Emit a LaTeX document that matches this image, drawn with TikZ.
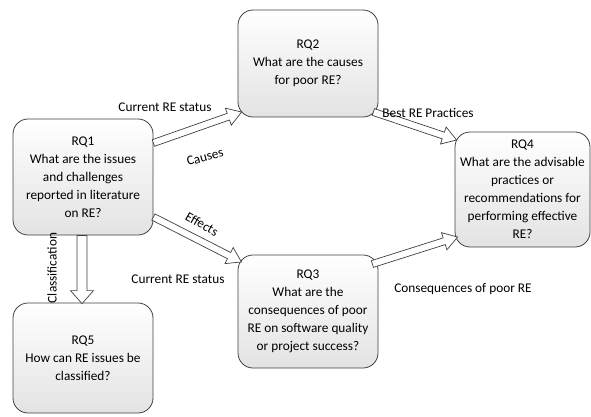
\documentclass[tikz,border=0pt]{standalone}
\usepackage{fontspec}
\setmainfont{Carlito}
\usetikzlibrary{calc}
\definecolor{edgegray}{HTML}{404040}
\tikzset{
  rq/.style={draw=edgegray, line width=0.8pt, rounded corners=15pt,
    top color=white, bottom color=gray!22, align=center, inner sep=0pt,
    font=\fontsize{13.3}{18}\selectfont},
  lbl/.style={font=\fontsize{13.3}{16}\selectfont, inner sep=0pt},
  blk/.style={draw=edgegray, fill=white, line width=0.7pt, line join=miter}
}
% hollow block arrow: from, to, half shaft width, half head width, head length
\newcommand\blockarrow[5]{%
  \draw[blk] let \p1=#1, \p2=#2,
    \n1={atan2(\y2-\y1,\x2-\x1)}, \n2={veclen(\x2-\x1,\y2-\y1)} in
    [shift={(\p1)}, rotate=\n1]
    (0,-#3) -- (\n2-#5,-#3) -- (\n2-#5,-#4) -- (\n2,0) -- (\n2-#5,#4)
    -- (\n2-#5,#3) -- (0,#3) -- cycle;
}
\begin{document}
\begin{tikzpicture}[x=1pt, y=-1pt]
\useasboundingbox (0,0) rectangle (591,417);

\node[rq, minimum width=140pt, minimum height=116pt] (q1) at (83,177)
  {RQ1\\What are the issues\\and challenges\\reported in literature\\on RE?};
\node[rq, minimum width=140pt, minimum height=107pt] (q2) at (308,63.5)
  {RQ2\\What are the causes\\for poor RE?};
\node[rq, minimum width=140pt, minimum height=113pt] (q3) at (308,311.5)
  {RQ3\\What are the\\consequences of poor\\RE on software quality\\or project success?};
\node[rq, minimum width=135pt, minimum height=115pt] (q4) at (522.5,189.5)
  {RQ4\\What are the advisable\\practices or\\recommendations for\\performing effective\\RE?};
\node[rq, minimum width=140pt, minimum height=110pt] (q5) at (83,358)
  {RQ5\\How can RE issues be\\classified?};

\blockarrow{([yshift=34pt]q1.east)}{([xshift=4pt,yshift=-48.5pt]q2.west)}{3.5}{9}{14}
\blockarrow{([yshift=-40pt]q1.east)}{([xshift=4pt,yshift=49.5pt]q3.west)}{3.5}{9}{14}
\blockarrow{([xshift=-5pt,yshift=-48.5pt]q2.east)}{([xshift=2pt,yshift=49.5pt]q4.west)}{3.5}{9}{14}
\blockarrow{([xshift=-6pt,yshift=47.5pt]q3.east)}{([xshift=3pt,yshift=-47.5pt]q4.west)}{3.5}{9}{14}
\blockarrow{([xshift=-1pt]q1.south)}{([xshift=-1pt,yshift=-1pt]q5.north)}{5}{11.5}{13}

\node[lbl] (cur1) at (165,107) {Current RE status};
\node[lbl, rotate=15] (causes) at (205,157) {Causes};
\node[lbl, rotate=-30] (effects) at (202,224) {Effects};
\node[lbl] (cur2) at (178,279) {Current RE status};
\node[lbl] (best) at (428,113) {Best RE Practices};
\node[lbl] (cons) at (463,289) {Consequences of poor RE};
\node[lbl, rotate=90] (cls) at (52,268) {Classification};
\end{tikzpicture}
\end{document}
